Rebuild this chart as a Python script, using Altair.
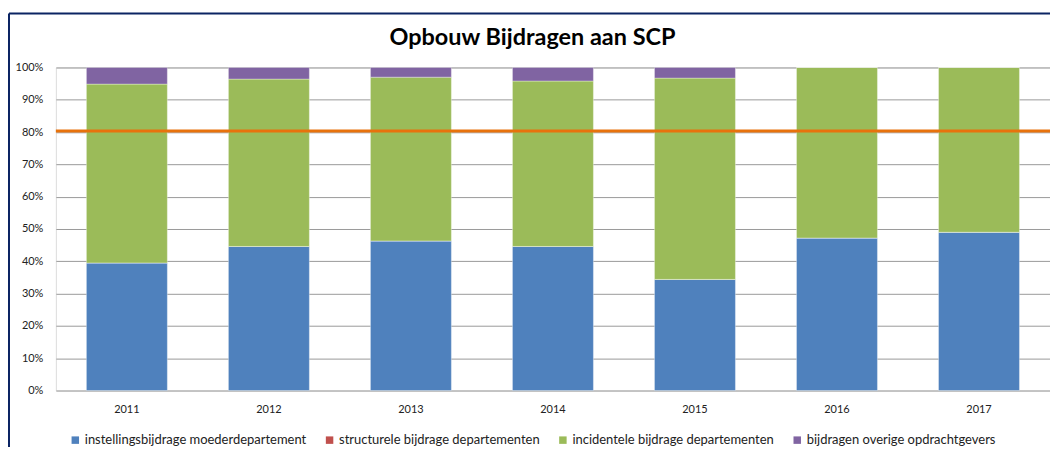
import altair as alt
import pandas as pd

years = ["2011", "2012", "2013", "2014", "2015", "2016", "2017"]
series = [
    "instellingsbijdrage moederdepartement",
    "structurele bijdrage departementen",
    "incidentele bijdrage departementen",
    "bijdragen overige opdrachtgevers",
]
colors = ["#4F81BD", "#C0504D", "#9BBB59", "#8064A2"]
instelling = [39.5, 44.6, 46.3, 44.6, 34.4, 47.2, 49.0]
structureel = [0, 0, 0, 0, 0, 0, 0]
incidenteel = [55.35, 51.8, 50.7, 51.2, 62.3, 52.8, 51.0]
overig = [5.15, 3.6, 3.0, 4.2, 3.3, 0.0, 0.0]
norm_value = [80.3]
title_text = ["Opbouw Bijdragen aan SCP"]

rows = []
for si, (name, vals) in enumerate(zip(series, [instelling, structureel, incidenteel, overig])):
    for y, v in zip(years, vals):
        rows.append({"jaar": y, "reeks": name, "waarde": v, "volgorde": si})
df = pd.DataFrame(rows)

FONT = "Lato"

y_axis = alt.Axis(title=None, tickCount=10,
                  labelExpr="datum.value + '%'", domain=False, ticks=False,
                  labelOverlap=False,
                  labelPadding=13, labelFontSize=11, labelFont=FONT,
                  labelColor="#222222", grid=True, gridColor="#9a9a9a",
                  gridWidth=1)
y_scale = alt.Scale(domain=[0, 100], nice=False)

bars = alt.Chart(df).mark_bar(stroke="#ffffff", strokeOpacity=0.35, strokeWidth=1).encode(
    x=alt.X("jaar:N", sort=years,
            scale=alt.Scale(paddingInner=0.43, paddingOuter=0.215),
            axis=alt.Axis(title=None, labelAngle=0, domain=False, ticks=False,
                          labelPadding=13, labelFontSize=11, labelFont=FONT,
                          labelColor="#222222", grid=False)),
    y=alt.Y("waarde:Q", stack="zero", scale=y_scale, axis=y_axis),
    color=alt.Color("reeks:N", sort=series,
                    scale=alt.Scale(domain=series, range=colors),
                    legend=alt.Legend(title=None, orient="none", legendX=13, legendY=367,
                                      direction="horizontal", columns=4, columnPadding=16,
                                      symbolType="square", symbolSize=56,
                                      symbolStrokeWidth=0, labelFontSize=13,
                                      labelFont=FONT, labelColor="#222222",
                                      labelLimit=0, labelOffset=3)),
    order=alt.Order("volgorde:Q"),
)

norm = alt.Chart(pd.DataFrame({"norm": norm_value})).mark_rule(
    color="#E8720C", strokeWidth=3
).encode(y=alt.Y("norm:Q", scale=y_scale, axis=y_axis))

title = alt.Chart(pd.DataFrame({"t": title_text})).mark_text(
    font=FONT, fontSize=23.5, fontWeight="bold", color="#000000",
    align="center", baseline="middle"
).encode(text="t:N", x=alt.value(478), y=alt.value(-30))

frame_left = alt.Chart(pd.DataFrame({"a": [0]})).mark_rule(
    color="#0B2463", strokeWidth=2
).encode(x=alt.value(-47), y=alt.value(-54), y2=alt.value(400))

frame_top = alt.Chart(pd.DataFrame({"a": [0]})).mark_rule(
    color="#0B2463", strokeWidth=2
).encode(x=alt.value(-47), x2=alt.value(1010), y=alt.value(-54))

chart = alt.layer(bars, norm, title, frame_left, frame_top).properties(
    width=997, height=324,
    autosize=alt.AutoSizeParams(type="none"),
    padding={"left": 48, "top": 59, "right": 0, "bottom": 56},
).configure_view(stroke=None).configure(background="#ffffff")

chart.save("out.html", embed_options={"renderer": "svg", "actions": False})
